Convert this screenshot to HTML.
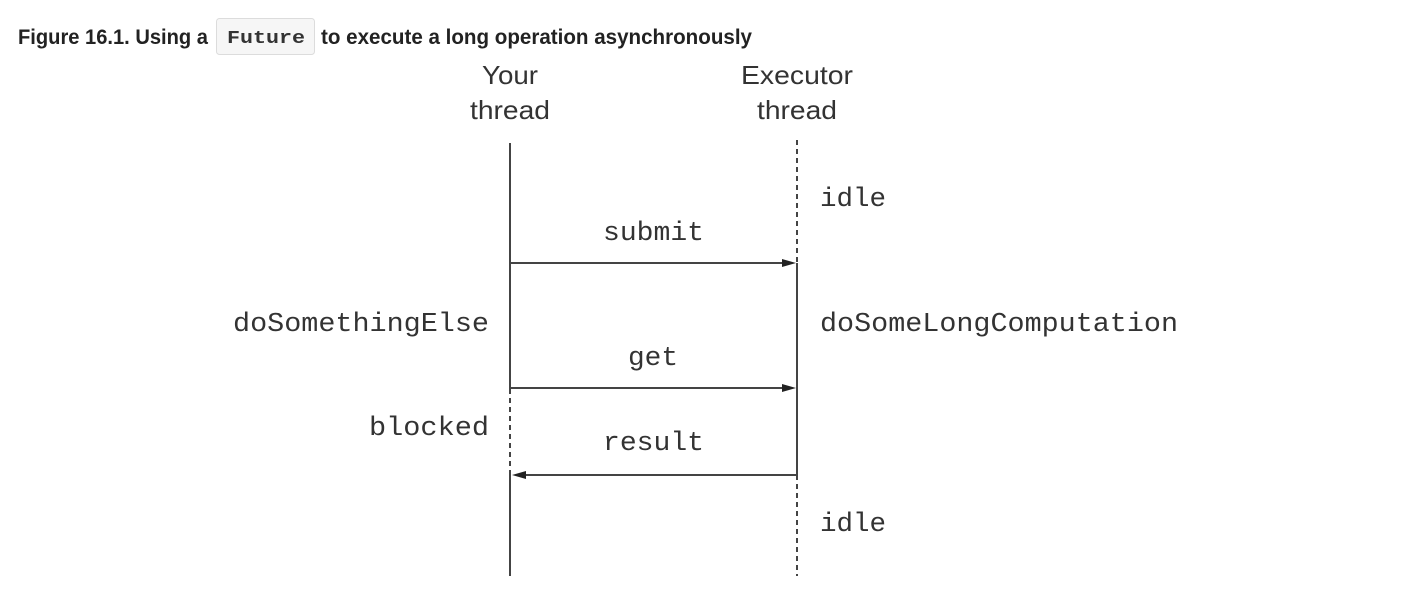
<!DOCTYPE html>
<html><head><meta charset="utf-8"><style>
html,body{margin:0;padding:0;background:#fff;width:1406px;height:596px;overflow:hidden}
svg{display:block}
</style></head><body>
<svg width="1406" height="596" viewBox="0 0 1406 596" xmlns="http://www.w3.org/2000/svg">
<g font-family="Liberation Sans, sans-serif" font-weight="bold" font-size="21" fill="#222">
<text x="18" y="44" textLength="190" lengthAdjust="spacingAndGlyphs">Figure 16.1. Using a</text>
<text x="321" y="44" textLength="431" lengthAdjust="spacingAndGlyphs">to execute a long operation asynchronously</text>
</g>
<rect x="216.5" y="18.5" width="98" height="36" rx="3" fill="#f6f6f6" stroke="#dcdcdc"/>
<text x="227" y="43" font-family="Liberation Mono, monospace" font-weight="bold" font-size="18" fill="#333" textLength="78" lengthAdjust="spacingAndGlyphs">Future</text>
<g font-family="Liberation Sans, sans-serif" font-size="26" fill="#333" text-anchor="middle">
<text x="510" y="84" textLength="56" lengthAdjust="spacingAndGlyphs">Your</text>
<text x="510" y="119" textLength="80" lengthAdjust="spacingAndGlyphs">thread</text>
<text x="797" y="84" textLength="112" lengthAdjust="spacingAndGlyphs">Executor</text>
<text x="797" y="119" textLength="80" lengthAdjust="spacingAndGlyphs">thread</text>
</g>
<g stroke="#444" stroke-width="2" fill="none">
<line x1="510" y1="143" x2="510" y2="389"/>
<line x1="510" y1="389" x2="510" y2="473" stroke-dasharray="5,4"/>
<line x1="510" y1="473" x2="510" y2="576"/>
<line x1="797" y1="140" x2="797" y2="263" stroke-dasharray="5,4"/>
<line x1="797" y1="263" x2="797" y2="475"/>
<line x1="797" y1="475" x2="797" y2="576" stroke-dasharray="5,4"/>
<line x1="510" y1="263" x2="785" y2="263"/>
<line x1="510" y1="388" x2="785" y2="388"/>
<line x1="524" y1="475" x2="797" y2="475"/>
</g>
<g fill="#222">
<polygon points="796,263 782,259 782,267"/>
<polygon points="796,388 782,384 782,392"/>
<polygon points="512,475 526,471 526,479"/>
</g>
<g font-family="Liberation Mono, monospace" font-size="27" fill="#333">
<text x="820" y="206" textLength="66" lengthAdjust="spacingAndGlyphs">idle</text>
<text x="603" y="240" textLength="101" lengthAdjust="spacingAndGlyphs">submit</text>
<text x="233" y="331" textLength="256" lengthAdjust="spacingAndGlyphs">doSomethingElse</text>
<text x="820" y="331" textLength="358" lengthAdjust="spacingAndGlyphs">doSomeLongComputation</text>
<text x="628" y="365" textLength="50" lengthAdjust="spacingAndGlyphs">get</text>
<text x="369" y="435" textLength="120" lengthAdjust="spacingAndGlyphs">blocked</text>
<text x="603" y="450" textLength="101" lengthAdjust="spacingAndGlyphs">result</text>
<text x="820" y="531" textLength="66" lengthAdjust="spacingAndGlyphs">idle</text>
</g>
</svg>
</body></html>
